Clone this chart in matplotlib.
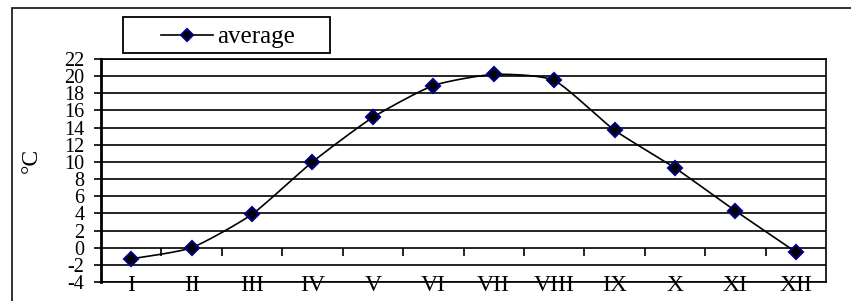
import numpy as np
import matplotlib
matplotlib.use("Agg")
import matplotlib.pyplot as plt
from matplotlib.patches import Rectangle
from matplotlib.lines import Line2D

months = ["I", "II", "III", "IV", "V", "VI", "VII", "VIII", "IX", "X", "XI", "XII"]
average = [-1.3, 0.0, 3.9, 10.0, 15.2, 18.9, 20.2, 19.5, 13.7, 9.3, 4.3, -0.5]
y_ticks = list(range(-4, 23, 2))
series_name = "average"
y_label = "°C"

plt.rcParams['font.family'] = ['Liberation Serif', 'DejaVu Serif']

W, H = 851, 301
fig = plt.figure(figsize=(W / 100, H / 100), dpi=100)
ax = fig.add_axes([101 / W, (H - 282) / H, 725 / W, 223 / H])

x = np.arange(len(months), dtype=float)
y = np.array(average, dtype=float)

# smoothed line (cardinal spline through the data points)
def cardinal(xs, ys, tension=0.6, n=30):
    px = np.concatenate([[xs[0]], xs, [xs[-1]]])
    py = np.concatenate([[ys[0]], ys, [ys[-1]]])
    outx, outy = [], []
    t = np.linspace(0, 1, n)
    h00 = 2 * t ** 3 - 3 * t ** 2 + 1
    h10 = t ** 3 - 2 * t ** 2 + t
    h01 = -2 * t ** 3 + 3 * t ** 2
    h11 = t ** 3 - t ** 2
    for i in range(1, len(px) - 2):
        for P, out in ((px, outx), (py, outy)):
            m1 = tension * 0.5 * (P[i + 1] - P[i - 1])
            m2 = tension * 0.5 * (P[i + 2] - P[i])
            out.extend(h00 * P[i] + h10 * m1 + h01 * P[i + 1] + h11 * m2)
    return np.array(outx), np.array(outy)

sx, sy = cardinal(x, y)
ax.plot(sx, sy, color='black', lw=1.2, zorder=3)
ax.plot(x, y, linestyle='none', marker='D', markersize=7, markerfacecolor='black',
        markeredgecolor='#000080', markeredgewidth=1.5, zorder=4)

ax.set_xlim(-0.5, len(months) - 0.5)
ax.set_ylim(y_ticks[0], y_ticks[-1])
ax.set_yticks(y_ticks)
ax.set_yticklabels([str(v) for v in y_ticks], fontsize=14.5)
ax.yaxis.grid(True, color='black', lw=1.2)
ax.set_axisbelow(True)
ax.tick_params(axis='y', direction='out', length=5, width=1.2, pad=7, color='black')

ax.set_xticks(x)
ax.set_xticklabels(months, fontsize=17)
ax.tick_params(axis='x', length=0, pad=-5)

for s in ax.spines.values():
    s.set_color('black')
    s.set_linewidth(1.2)
ax.spines['left'].set_linewidth(2)

# category boundary ticks on the zero line
loc0 = (0 - y_ticks[0]) / (y_ticks[-1] - y_ticks[0])
sec = ax.secondary_xaxis(loc0)
sec.set_xticks(np.arange(0.5, len(months) - 0.5, 1.0))
sec.tick_params(direction='out', length=6, width=1.2, labelbottom=False, labeltop=False,
                top=False, bottom=True)
sec.spines['bottom'].set_visible(False)
sec.spines['top'].set_visible(False)

fig.text(31 / W, 1 - 160 / H, y_label, rotation=90, fontsize=17, ha='center', va='center')

# legend box
fig.add_artist(Rectangle((123 / W, 1 - 53 / H), (330 - 123) / W, 36 / H,
                         transform=fig.transFigure, fill=False, lw=1.3, edgecolor='black'))
fig.add_artist(Line2D([161 / W, 213 / W], [1 - 35 / H, 1 - 35 / H], transform=fig.transFigure,
                      color='black', lw=1.2))
fig.add_artist(Line2D([187 / W], [1 - 35 / H], transform=fig.transFigure, linestyle='none',
                      marker='D', markersize=6, markerfacecolor='black',
                      markeredgecolor='#000080', markeredgewidth=1.5))
fig.text(217 / W, 1 - 43.5 / H, series_name, fontsize=18, ha='left', va='baseline')

fig.add_artist(Rectangle((12 / W, -0.1), 1.0, 1.1 - 8 / H, transform=fig.transFigure,
                         fill=False, lw=1.3, edgecolor='#222222'))

fig.savefig("out.png", dpi=100)
